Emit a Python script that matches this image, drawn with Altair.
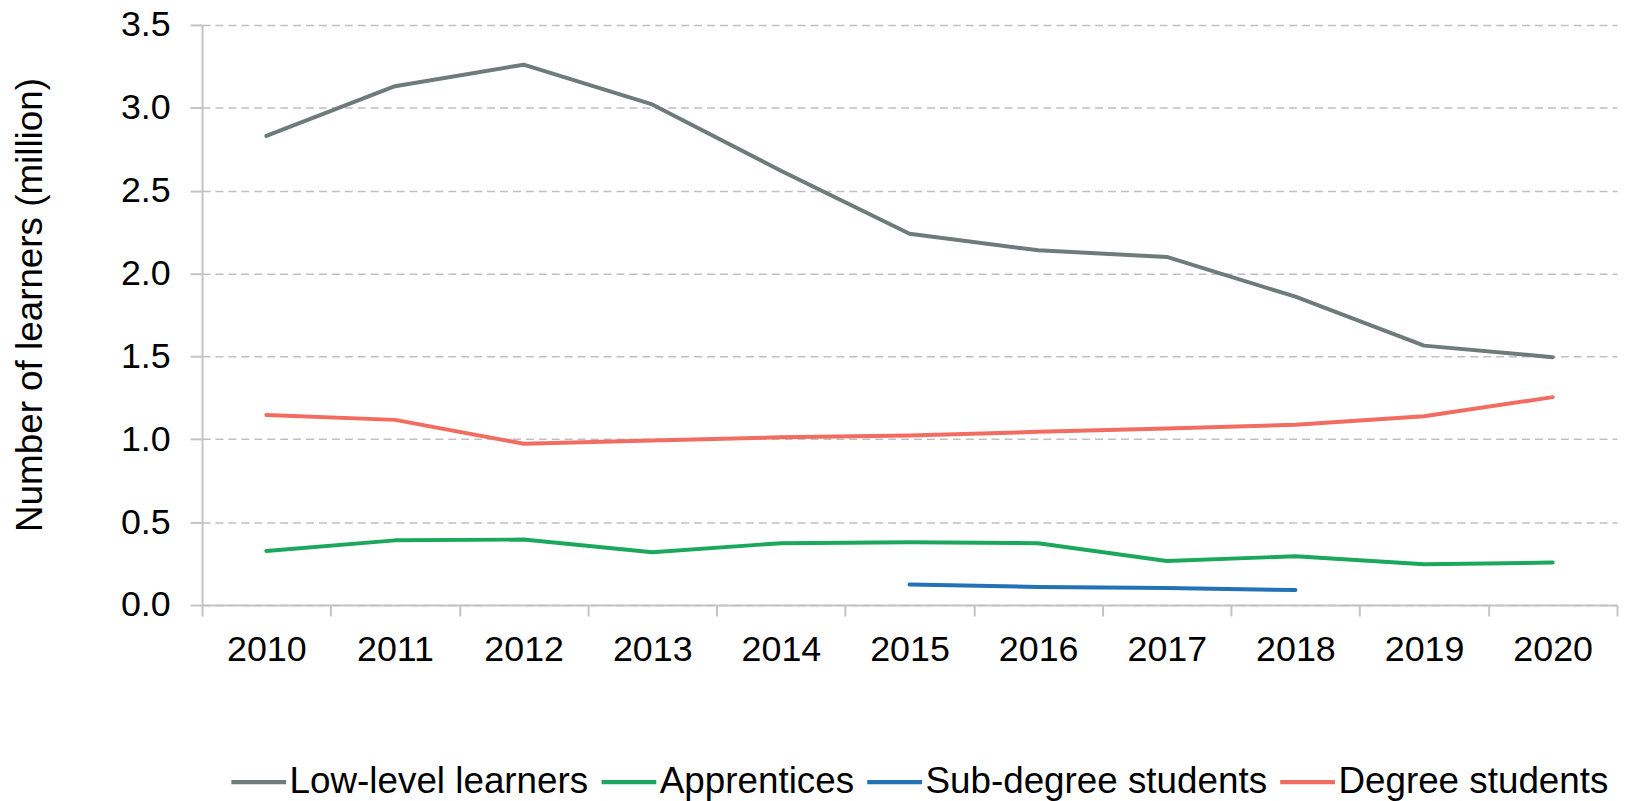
import altair as alt
import pandas as pd

years = [str(y) for y in range(2010, 2021)]
low_level = [2.83, 3.13, 3.26, 3.02, 2.62, 2.24, 2.14, 2.10, 1.86, 1.565, 1.495]
apprentices = [0.326, 0.39, 0.395, 0.318, 0.373, 0.378, 0.373, 0.266, 0.294, 0.246, 0.256]
sub_years = ["2015", "2016", "2017", "2018"]
sub_degree = [0.124, 0.109, 0.102, 0.09]
degree = [1.147, 1.117, 0.973, 0.993, 1.012, 1.022, 1.045, 1.065, 1.087, 1.139, 1.254]

series_names = ["Low-level learners", "Apprentices", "Sub-degree students", "Degree students"]
series_colors = ["#6e7b7b", "#1ba85c", "#2472b6", "#f26c61"]

rows = []
for name, xs, vs in [
    (series_names[0], years, low_level),
    (series_names[1], years, apprentices),
    (series_names[2], sub_years, sub_degree),
    (series_names[3], years, degree),
]:
    for x, v in zip(xs, vs):
        rows.append({"year": x, "value": v, "series": name})
df = pd.DataFrame(rows)

FONT = "Liberation Sans"

chart = alt.Chart(df).mark_line(strokeWidth=4, strokeCap="round", strokeJoin="round").encode(
    x=alt.X(
        "year:O",
        bandPosition=0.5,
        scale=alt.Scale(type="band", domain=years, paddingInner=0, paddingOuter=0),
        axis=alt.Axis(
            title=None,
            labelAngle=0,
            tickBand="extent",
            domainColor="#c4c4c4",
            domainWidth=2,
            tickColor="#c4c4c4",
            tickWidth=2,
            tickSize=11,
            labelPadding=17,
            labelFontSize=36,
            labelFont=FONT,
            labelColor="#000000",
            grid=False,
        ),
    ),
    y=alt.Y(
        "value:Q",
        scale=alt.Scale(domain=[0, 3.5], nice=False),
        axis=alt.Axis(
            title="Number of learners (million)",
            values=[0, 0.5, 1.0, 1.5, 2.0, 2.5, 3.0, 3.5],
            format=".1f",
            domainColor="#c4c4c4",
            domainWidth=2,
            tickColor="#c4c4c4",
            tickWidth=2,
            tickSize=12,
            labelPadding=20,
            labelFontSize=36,
            labelFont=FONT,
            labelColor="#000000",
            titleFont=FONT,
            titleFontSize=37,
            titleFontWeight="normal",
            titleColor="#000000",
            titleAngle=270,
            titleAlign="center",
            titleBaseline="middle",
            titleX=-172,
            titleY=281,
            grid=True,
            gridColor="#c0c0c0",
            gridDash=[8, 5],
            gridWidth=1.5,
        ),
    ),
    color=alt.Color(
        "series:N",
        scale=alt.Scale(domain=series_names, range=series_colors),
        legend=alt.Legend(
            title=None,
            orient="none",
            direction="horizontal",
            legendX=27,
            legendY=731,
            symbolType="stroke",
            symbolSize=3025,
            symbolStrokeWidth=4.5,
            labelFont=FONT,
            labelFontSize=37,
            labelColor="#000000",
            labelOffset=1,
            columnPadding=3,
            padding=0,
            labelLimit=0,
        ),
    ),
).properties(
    width=1422,
    height=583,
    autosize=alt.AutoSizeParams(type="none"),
    padding={"left": 195, "top": 15, "right": 4, "bottom": 195},
).configure_view(stroke=None)

chart.save("out.html", embed_options={"renderer": "svg", "actions": False})
